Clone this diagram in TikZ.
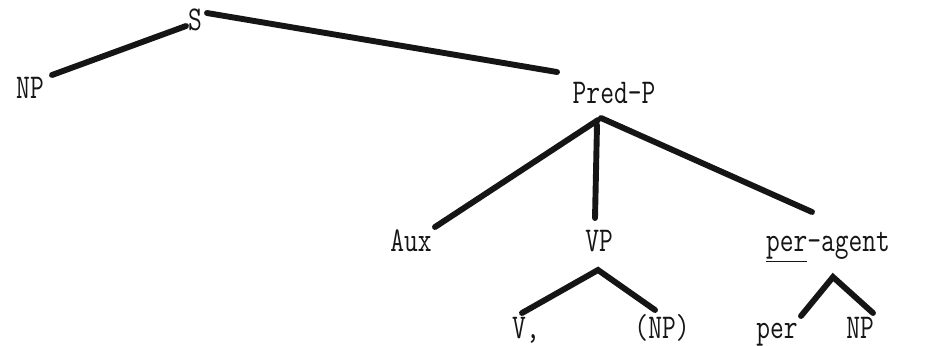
\documentclass[tikz,border=0pt]{standalone}
\usepackage{tikz}
\usetikzlibrary{calc}
\definecolor{ink}{HTML}{151515}
\newcommand{\tallword}[1]{\scalebox{1}[1.3]{#1}}

\begin{document}
\begin{tikzpicture}[x=0.025cm, y=-0.025cm,
  word/.style={ink, font=\ttfamily\fontsize{19}{22}\selectfont, inner sep=0pt, anchor=base},
  branch/.style={draw=ink, line width=4.2pt, line cap=round}]
  \useasboundingbox (0,0) rectangle (951,345);
  % labels
  \node[word] (s) at (195,30) {\tallword{S}};
  \node[word] (np) at (30,98) {\tallword{NP}};
  \node[word] (predp) at (614,103) {\tallword{Pred-P}};
  \node[word] (aux) at (411,251) {\tallword{Aux}};
  \node[word] (vp) at (599,251) {\tallword{VP}};
  \node[word] (agent) at (828,251) {\tallword{\underline{per}-agent}};
  \node[word] (v) at (526,338) {\tallword{V,}};
  \node[word] (vnp) at (662,338) {\tallword{(NP)}};
  \node[word] (per) at (777,338) {\tallword{per}};
  \node[word] (anp) at (860,338) {\tallword{NP}};
  % branches
  \draw[branch] ($(np.base)+(22,-23)$) -- ($(s.base)+(-9,-4)$);
  \draw[branch] ($(s.base)+(12,-17)$) -- ($(predp.base)+(-57,-31)$);
  \draw[branch] ($(predp.base)+(-16,17)$) -- ($(aux.base)+(24,-24)$);
  \draw[branch] ($(predp.base)+(-17,22)$) -- ($(vp.base)+(-4,-33)$);
  \draw[branch] ($(predp.base)+(-13,15)$) -- ($(agent.base)+(-16,-39)$);
  \draw[branch] ($(v.base)+(-4,-25)$) -- ($(vp.base)+(-1,19)$) -- ($(vnp.base)+(-7,-28)$);
  \draw[branch] ($(per.base)+(24,-22)$) -- ($(agent.base)+(5,26)$) -- ($(anp.base)+(13,-25)$);
\end{tikzpicture}
\end{document}
